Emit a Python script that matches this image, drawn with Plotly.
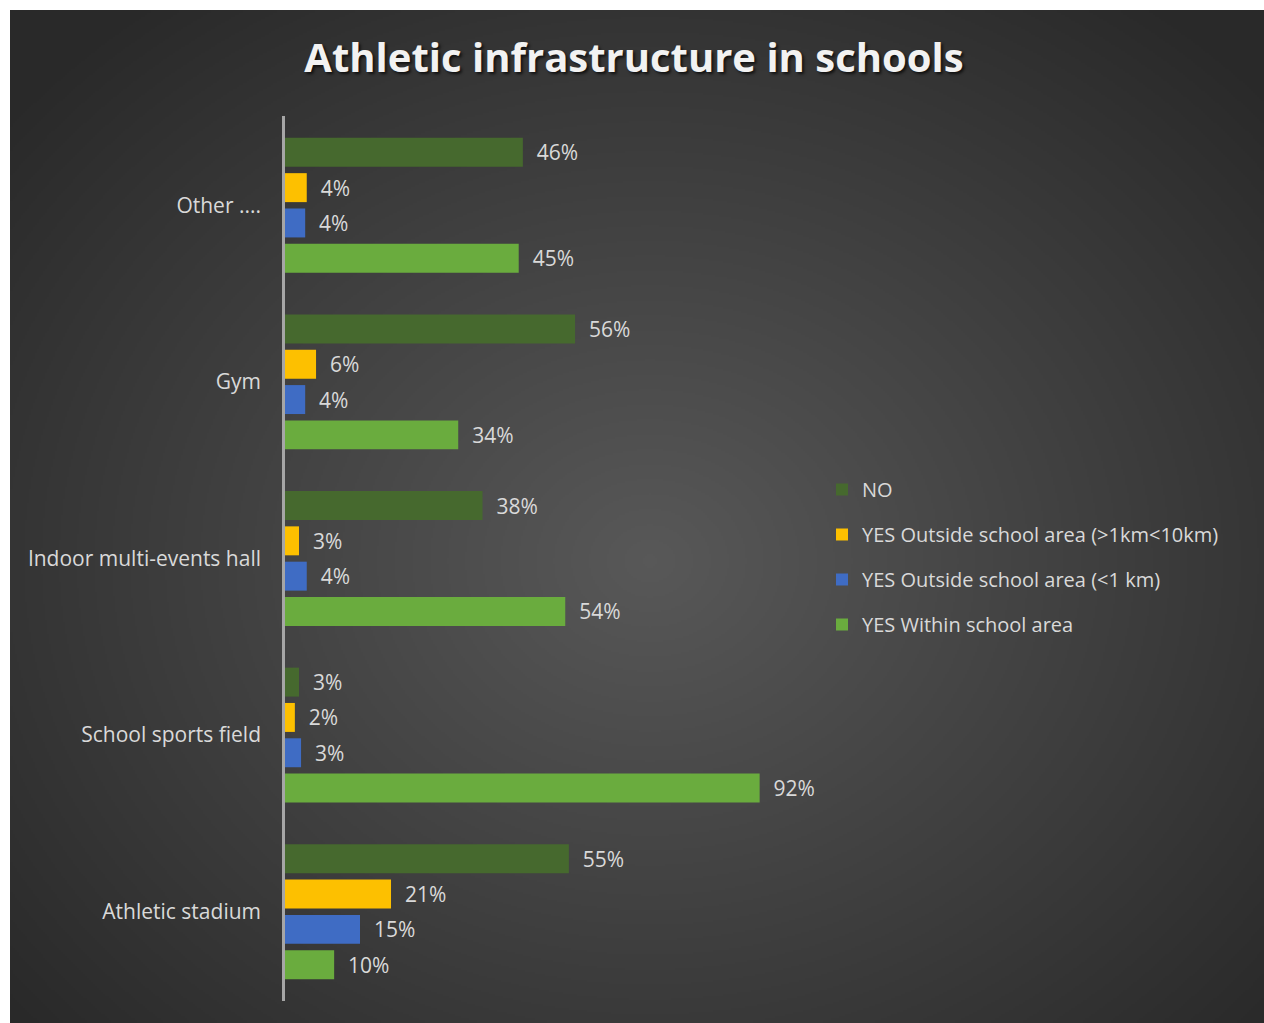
import base64
import struct
import zlib

import numpy as np
import plotly.graph_objects as go

categories = ["Athletic stadium", "School sports field", "Indoor multi-events hall", "Gym", "Other ...."]
series_names = ["YES Within school area", "YES Outside school area (<1 km)",
                "YES Outside school area (>1km<10km)", "NO"]
yes_within = [9.7, 92.0, 54.4, 33.7, 45.4]
yes_lt1km = [14.7, 3.3, 4.4, 4.1, 4.1]
yes_1to10km = [20.7, 2.1, 2.9, 6.2, 4.4]
no_values = [55.1, 2.9, 38.4, 56.3, 46.2]
series_values = [yes_within, yes_lt1km, yes_1to10km, no_values]
series_colors = ["#6aac3e", "#3f6cc4", "#fdc000", "#46692e"]

W, H = 1264, 1023
L, R, T, B = 284, 801, 117, 1000

def px(x):
    return (x - L) / (R - L)

def py(y):
    return (B - y) / (B - T)

FONT = "Open Sans"
TXT = "#d9d9d9"


def gradient_png(w, h, x0, y0, cx, cy, rx, ry, v_out, v_in, scale):
    gw, gh = w // scale, h // scale
    xs = (np.arange(gw) + 0.5) * scale + x0
    ys = (np.arange(gh) + 0.5) * scale + y0
    X, Y = np.meshgrid(xs, ys)
    d = np.sqrt(((X - cx) / rx) ** 2 + ((Y - cy) / ry) ** 2)
    t = np.clip(1 - d, 0, 1)
    v = np.clip(np.round(v_out + (v_in - v_out) * t), 0, 255).astype(np.uint8)
    raw = b"".join(b"\x00" + v[r].tobytes() for r in range(gh))

    def chunk(tag, data):
        c = tag + data
        return struct.pack(">I", len(data)) + c + struct.pack(">I", zlib.crc32(c) & 0xffffffff)

    png = (b"\x89PNG\r\n\x1a\n"
           + chunk(b"IHDR", struct.pack(">IIBBBBB", gw, gh, 8, 0, 0, 0, 0))
           + chunk(b"IDAT", zlib.compress(raw, 9))
           + chunk(b"IEND", b""))
    return "data:image/png;base64," + base64.b64encode(png).decode()


bg_src = gradient_png(W - 10, H - 10, 10, 10, 650, 560, 830, 700, 41, 88, 2)

fig = go.Figure()
for i, (name, vals, col) in enumerate(zip(series_names, series_values, series_colors)):
    fig.add_trace(go.Bar(
        y=categories, x=vals, name=name, orientation="h",
        marker=dict(color=col, line=dict(width=0)),
        texttemplate="\u00a0\u00a0%{x:.0f}%", textposition="outside",
        textfont=dict(family=FONT, size=21, color=TXT),
        cliponaxis=False, legendgroup=name, legendrank=100 - i,
    ))

shapes = [dict(type="line", xref="paper", yref="paper", layer="above",
               x0=px(283.5), x1=px(283.5), y0=py(116), y1=py(1001),
               line=dict(color="#a6a6a6", width=3))]

fig.update_layout(
    width=W, height=H,
    margin=dict(l=L, r=W - R, t=T, b=H - B, pad=0),
    paper_bgcolor="white", plot_bgcolor="rgba(0,0,0,0)",
    barmode="group", bargap=0.2, bargroupgap=0.18,
    images=[dict(source=bg_src, xref="paper", yref="paper",
                 x=px(10), y=py(10), sizex=px(W) - px(10), sizey=py(10) - py(H),
                 xanchor="left", yanchor="top", sizing="stretch", layer="below")],
    title=dict(text="<b>Athletic infrastructure in schools</b>",
               x=634 / W, xref="container", xanchor="center",
               y=1 - 58 / H, yref="container", yanchor="middle",
               font=dict(family=FONT, size=40, color="#f2f2f2",
                         shadow="2px 2px 3px rgba(0,0,0,0.7)")),
    xaxis=dict(range=[0, 100], visible=False, fixedrange=True),
    yaxis=dict(type="category", categoryorder="array", categoryarray=categories,
               showline=False, showgrid=False, zeroline=False, ticks="",
               ticklabelstandoff=22,
               tickfont=dict(family=FONT, size=21, color=TXT)),
    legend=dict(x=px(822), xanchor="left", y=py(557), yanchor="middle",
                traceorder="grouped", tracegroupgap=16,
                font=dict(family=FONT, size=20, color=TXT),
                bgcolor="rgba(0,0,0,0)", itemclick=False),
    shapes=shapes,
    showlegend=True,
)

fig.write_html("out.html")
